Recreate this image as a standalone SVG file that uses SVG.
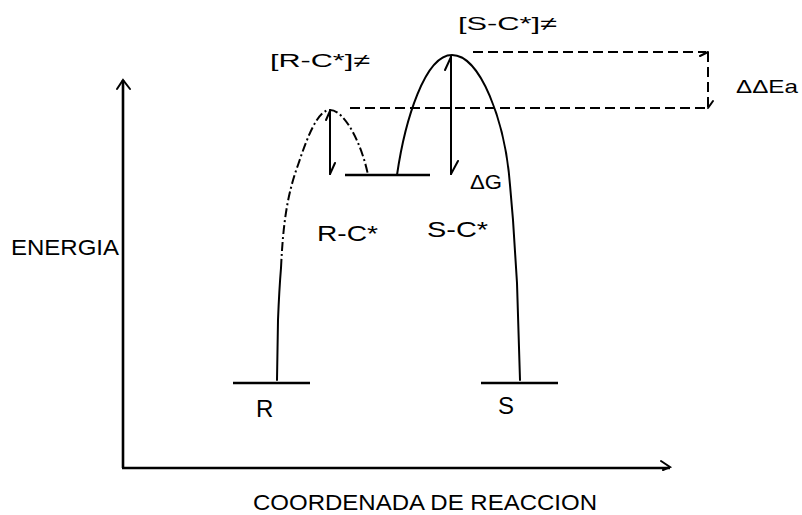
<svg xmlns="http://www.w3.org/2000/svg" width="802" height="515" viewBox="0 0 802 515">
<style>
  .ax { stroke:#000; stroke-width:2.6; fill:none; }
  .lvl { stroke:#000; stroke-width:2.6; fill:none; }
  .cv { stroke:#000; stroke-width:2; fill:none; stroke-linecap:round; }
  .dd { stroke:#000; stroke-width:2; fill:none; stroke-dasharray:9 3 2 3; }
  .dash { stroke:#000; stroke-width:2; fill:none; stroke-dasharray:10 5; }
  .ar { stroke:#000; stroke-width:2; fill:none; stroke-linecap:round; }
  text { font-family:"Liberation Sans", Arial, sans-serif; fill:#000; }
  .lab { font-size:22px; }
  .big { font-size:24px; }
  .sm { font-size:19px; }
</style>
<rect width="802" height="515" fill="#fff"/>

<g id="axes">
  <line class="ax" x1="123" y1="80" x2="123" y2="468"/>
  <polyline class="ar" points="117,89 123,80 130,89"/>
  <line class="ax" x1="122" y1="468" x2="670" y2="468"/>
  <polyline class="ar" points="661,461 670,467 663,470"/>
  <text id="energia" class="lab" x="11" y="255" font-size="23" textLength="108" lengthAdjust="spacingAndGlyphs">ENERGIA</text>
  <text id="coord" class="lab" x="253" y="510" textLength="344" lengthAdjust="spacingAndGlyphs">COORDENADA DE REACCION</text>
</g>

<g id="node-R">
  <line class="lvl" x1="233" y1="383" x2="310" y2="383"/>
  <text class="big" x="256" y="417">R</text>
</g>
<g id="node-S">
  <line class="lvl" x1="481" y1="383" x2="558" y2="383"/>
  <text class="big" x="498" y="414">S</text>
</g>
<g id="node-intermedio">
  <line class="lvl" x1="345" y1="175" x2="430" y2="175"/>
  <text class="lab" x="317" y="241" textLength="61" lengthAdjust="spacingAndGlyphs">R-C*</text>
  <text class="lab" x="427" y="237" textLength="61" lengthAdjust="spacingAndGlyphs">S-C*</text>
</g>
<g id="node-TS-R">
  <text class="sm" x="270" y="67" textLength="100" lengthAdjust="spacingAndGlyphs">[R-C*]≠</text>
</g>
<g id="node-TS-S">
  <text class="sm" x="458" y="30" textLength="99" lengthAdjust="spacingAndGlyphs">[S-C*]≠</text>
</g>
<g id="label-dG">
  <text x="470" y="189" font-size="20" textLength="32" lengthAdjust="spacingAndGlyphs">ΔG</text>
</g>
<g id="label-ddEa">
  <text class="sm" x="736" y="93" textLength="62" lengthAdjust="spacingAndGlyphs">ΔΔEa</text>
</g>

<g id="connectors">
  <!-- R pathway -->
  <path class="cv" d="M277,380 L278,320 C279,295 280,280 281,268"/>
  <path class="dd" d="M281,268 C283,225 287,195 298,165 C308,135 318,110 330,110 C345,110 362,145 368,175"/>
  <!-- S pathway -->
  <path class="cv" d="M397,175 C405,120 425,55 452,55 C480,55 505,120 510,185 L513,220 L517,283 L520,380"/>
  <!-- activation arrows -->
  <line class="ar" x1="330" y1="110" x2="330" y2="174"/>
  <line class="ar" x1="335" y1="163" x2="330" y2="174"/>
  <line class="ar" x1="326" y1="120" x2="330" y2="111"/>
  <line class="ar" x1="451" y1="56" x2="451" y2="174"/>
  <line class="ar" x1="458" y1="161" x2="451" y2="174"/>
  <line class="ar" x1="445" y1="70" x2="451" y2="57"/>
  <!-- ddEa bracket -->
  <line class="dash" x1="473" y1="52" x2="706" y2="52"/>
  <line class="dash" x1="350" y1="108" x2="708" y2="108"/>
  <line class="dash" x1="708" y1="52" x2="708" y2="107"/>
  <line class="ar" x1="700" y1="56" x2="708" y2="52"/>
  <line class="ar" x1="713" y1="101" x2="708" y2="108"/>
</g>
</svg>
